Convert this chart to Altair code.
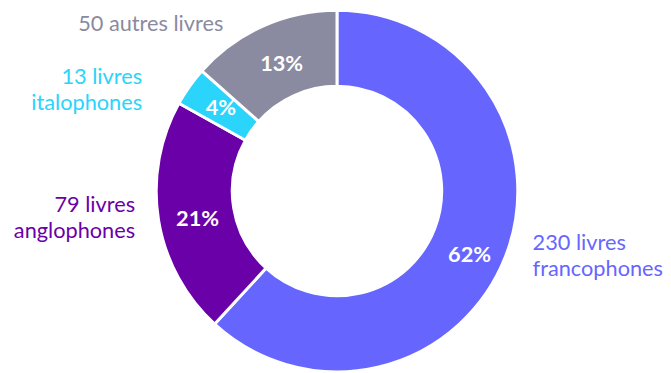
import altair as alt
import pandas as pd

cats = ["francophones", "anglophones", "italophones", "autres"]
counts = [230, 79, 13, 50]
pcts = [62, 21, 4, 13]
labels = ["230 livres\nfrancophones", "79 livres\nanglophones", "13 livres\nitalophones", "50 autres livres"]
colors = ["#6666FF", "#6A00A8", "#2AD4FB", "#8A8AA0"]

df = pd.DataFrame({
    "cat": cats,
    "count": counts,
    "pct": pcts,
    "label": labels,
    "order": list(range(len(cats))),
})

FONT = "Lato"
color = alt.Color("cat:N", scale=alt.Scale(domain=cats, range=colors), legend=None)

base = (
    alt.Chart(df)
    .transform_window(cum="sum(count)", sort=[alt.SortField("order")], frame=[None, 0])
    .transform_calculate(mid="datum.cum - datum.count/2", pcttxt="datum.pct + '%'")
)

arcs = alt.Chart(df).mark_arc(
    innerRadius=106, outerRadius=183, stroke="white", strokeWidth=3
).encode(
    theta=alt.Theta("count:Q", stack=True),
    color=color,
    order=alt.Order("order:Q"),
)

# per-slice fine offsets for the percentage and the outer labels
pct_cfg = {
    "francophones": (0, 13),
    "anglophones": (1, 5),
    "italophones": (0, -1),
    "autres": (3, 3),
}
label_cfg = {
    "francophones": ("left", 7, -22),
    "anglophones": ("right", -2, -19),
    "italophones": ("right", -30, 3),
    "autres": ("right", -31, 18),
}

layers = [arcs]
for c in cats:
    pdx, pdy = pct_cfg[c]
    layers.append(
        base.transform_filter(alt.datum.cat == c).mark_text(
            radius=144, font=FONT, fontSize=22, fontWeight="bold", color="white",
            align="center", baseline="middle", dx=pdx, dy=pdy,
        ).encode(
            theta=alt.Theta("mid:Q", stack=False),
            text="pcttxt:N",
        )
    )

for c in cats:
    al, dx, dy = label_cfg[c]
    layers.append(
        base.transform_filter(alt.datum.cat == c).mark_text(
            radius=205, align=al, baseline="middle", dx=dx, dy=dy,
            font=FONT, fontSize=22, lineBreak="\n", lineHeight=27,
        ).encode(
            theta=alt.Theta("mid:Q", stack=False),
            text="label:N",
            color=color,
        )
    )

chart = alt.layer(*layers).properties(
    width=660, height=366,
    padding={"left": 3, "top": 0, "right": 0, "bottom": 0},
    autosize=alt.AutoSizeParams(type="none"),
).configure_view(strokeWidth=0)

chart.save("out.html", embed_options={"renderer": "svg", "actions": False})
